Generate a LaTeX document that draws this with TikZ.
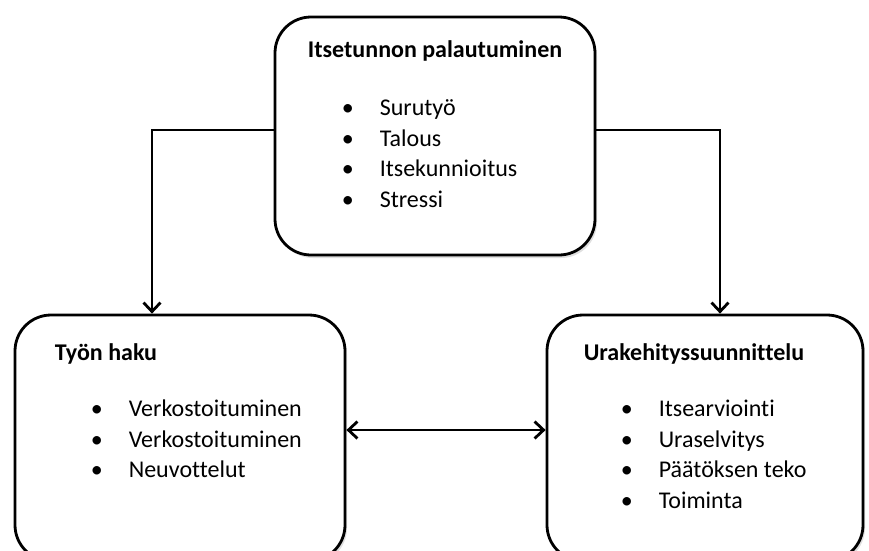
\documentclass[tikz,border=0pt]{standalone}
\usepackage{fontspec}
\setmainfont{Carlito}[Ligatures=NoCommon]
\usepackage{tikz}
\usetikzlibrary{positioning,arrows.meta,shadows}

\newcommand{\luoti}{\makebox[38pt][l]{\textbullet}}

\begin{document}
\begin{tikzpicture}[
  x=1pt, y=-1pt,
  every node/.style={inner sep=0pt},
  laatikko/.style={draw, line width=2.8pt, rounded corners=36pt, fill=white,
    drop shadow={shadow xshift=2pt, shadow yshift=-3pt, opacity=.25}},
  otsikko/.style={font=\fontsize{24}{30.5}\selectfont\bfseries},
  lista/.style={font=\fontsize{24}{30.5}\selectfont, anchor=base west},
  nuoli/.style={-{Straight Barb[length=9pt,width=17pt]}, line width=2.8pt},
  kaksi/.style={{Straight Barb[length=9pt,width=17pt]}-{Straight Barb[length=9pt,width=17pt]}, line width=2.8pt}
]
  \useasboundingbox (0,0) rectangle (869,550);
  \node[laatikko, minimum width=320pt, minimum height=238pt] (itse) at (435,136) {};
  \node[laatikko, minimum width=330pt, minimum height=246pt] (haku) at (180,438) {};
  \node[laatikko, minimum width=316pt, minimum height=246pt] (ura) at (705,438) {};
  % otsikot
  \node[otsikko, anchor=base] (itseo) at ([yshift=-42pt]itse.north) {Itsetunnon palautuminen};
  \node[otsikko, anchor=base west] (hakuo) at ([shift={(41,47)}]haku.north west) {Työn haku};
  \node[otsikko, anchor=base west] (urao) at ([shift={(38,47)}]ura.north west) {Urakehityssuunnittelu};
  % listat
  \node[lista] (itsel) at ([shift={(68,100)}]itse.north west)
    {\begin{tabular}[t]{@{}l@{}}\luoti Surutyö\\ \luoti Talous\\ \luoti Itsekunnioitus\\ \luoti Stressi\end{tabular}};
  \node[lista] (hakul) at ([shift={(77,103)}]haku.north west)
    {\begin{tabular}[t]{@{}l@{}}\luoti Verkostoituminen\\ \luoti Verkostoituminen\\ \luoti Neuvottelut\end{tabular}};
  \node[lista] (ural) at ([shift={(75,103)}]ura.north west)
    {\begin{tabular}[t]{@{}l@{}}\luoti Itsearviointi\\ \luoti Uraselvitys\\ \luoti Päätöksen teko\\ \luoti Toiminta\end{tabular}};
  % nuolet
  \draw[nuoli] ([yshift=6pt]itse.west) -| ([xshift=-28pt]haku.north);
  \draw[nuoli] ([yshift=6pt]itse.east) -| ([xshift=15pt]ura.north);
  \draw[kaksi] ([yshift=8pt]haku.east) -- ([yshift=8pt]ura.west);
\end{tikzpicture}
\end{document}
